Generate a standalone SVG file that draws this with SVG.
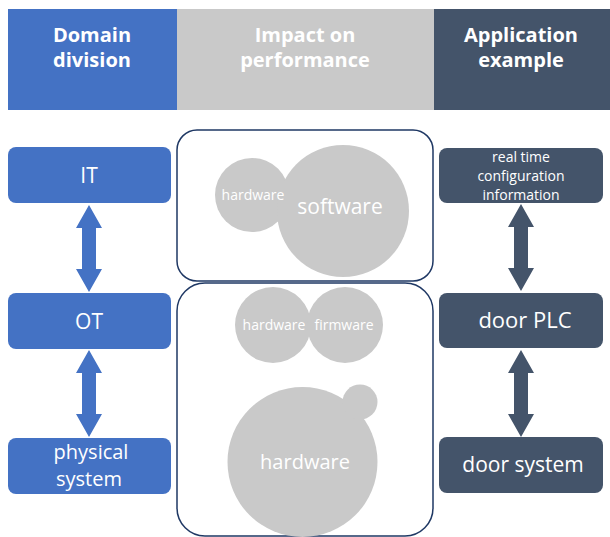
<svg xmlns="http://www.w3.org/2000/svg" width="610" height="537" viewBox="0 0 610 537">
<style>
text{font-family:"Open Sans","Noto Sans","Liberation Sans",sans-serif;fill:#fff;text-anchor:middle}
.hd{font-weight:bold;font-size:20px}
.blue{fill:#4472C4}
.dark{fill:#44546A}
.grey{fill:#C9C9C9}
.panel{fill:#fff;stroke:#1F3864;stroke-width:1.5}
</style>
<rect width="610" height="537" fill="#fff"/>
<g id="header">
<rect class="blue" x="8" y="9" width="169" height="101"/>
<rect class="grey" x="177" y="9" width="257" height="101"/>
<rect class="dark" x="434" y="9" width="176" height="101"/>
<text class="hd" x="92" y="42">Domain</text>
<text class="hd" x="92" y="67">division</text>
<text class="hd" x="305" y="42">Impact on</text>
<text class="hd" x="305" y="67">performance</text>
<text class="hd" x="521" y="42">Application</text>
<text class="hd" x="521" y="67">example</text>
</g>
<g id="panel-top">
<rect class="panel" x="177" y="130" width="256" height="151" rx="20"/>
<circle class="grey" cx="252" cy="195" r="37"/>
<circle class="grey" cx="343" cy="211" r="66"/>
<text x="253" y="200" font-size="14">hardware</text>
<text x="340" y="214" font-size="21">software</text>
</g>
<g id="panel-bottom">
<rect class="panel" x="177" y="283" width="256" height="253" rx="28"/>
<circle class="grey" cx="273" cy="325" r="38"/>
<circle class="grey" cx="345" cy="325" r="38"/>
<text x="274" y="330" font-size="14">hardware</text>
<text x="344" y="330" font-size="14">firmware</text>
<circle class="grey" cx="302.5" cy="462" r="75"/>
<circle class="grey" cx="360" cy="402" r="17.5"/>
<text x="305" y="469" font-size="20">hardware</text>
</g>
<g id="IT">
<rect class="blue" x="8" y="147" width="163" height="56" rx="8"/>
<text x="89" y="183" font-size="21">IT</text>
</g>
<g id="OT">
<rect class="blue" x="8" y="293" width="163" height="56" rx="8"/>
<text x="89" y="329" font-size="21">OT</text>
</g>
<g id="physical-system">
<rect class="blue" x="8" y="438" width="163" height="56" rx="8"/>
<text x="91" y="459" font-size="20">physical</text>
<text x="89" y="486" font-size="20">system</text>
</g>
<g id="real-time">
<rect class="dark" x="439" y="148" width="164" height="55" rx="8"/>
<text x="521" y="162" font-size="14">real time</text>
<text x="521" y="181" font-size="14">configuration</text>
<text x="521" y="200" font-size="14">information</text>
</g>
<g id="door-PLC">
<rect class="dark" x="439" y="293" width="164" height="55" rx="8"/>
<text x="525" y="328" font-size="22">door PLC</text>
</g>
<g id="door-system">
<rect class="dark" x="439" y="437" width="164" height="56" rx="8"/>
<text x="523" y="472" font-size="21">door system</text>
</g>
<g id="connectors">
<polygon class="blue" points="89,205 102,228 96,228 96,269 102,269 89,292 76,269 82,269 82,228 76,228"/>
<polygon class="blue" points="89,350 102,373 96,373 96,414 102,414 89,437 76,414 82,414 82,373 76,373"/>
<polygon class="dark" points="521,204 534,227 528,227 528,268 534,268 521,291 508,268 514,268 514,227 508,227"/>
<polygon class="dark" points="521,350 534,373 528,373 528,414 534,414 521,437 508,414 514,414 514,373 508,373"/>
</g>
</svg>
